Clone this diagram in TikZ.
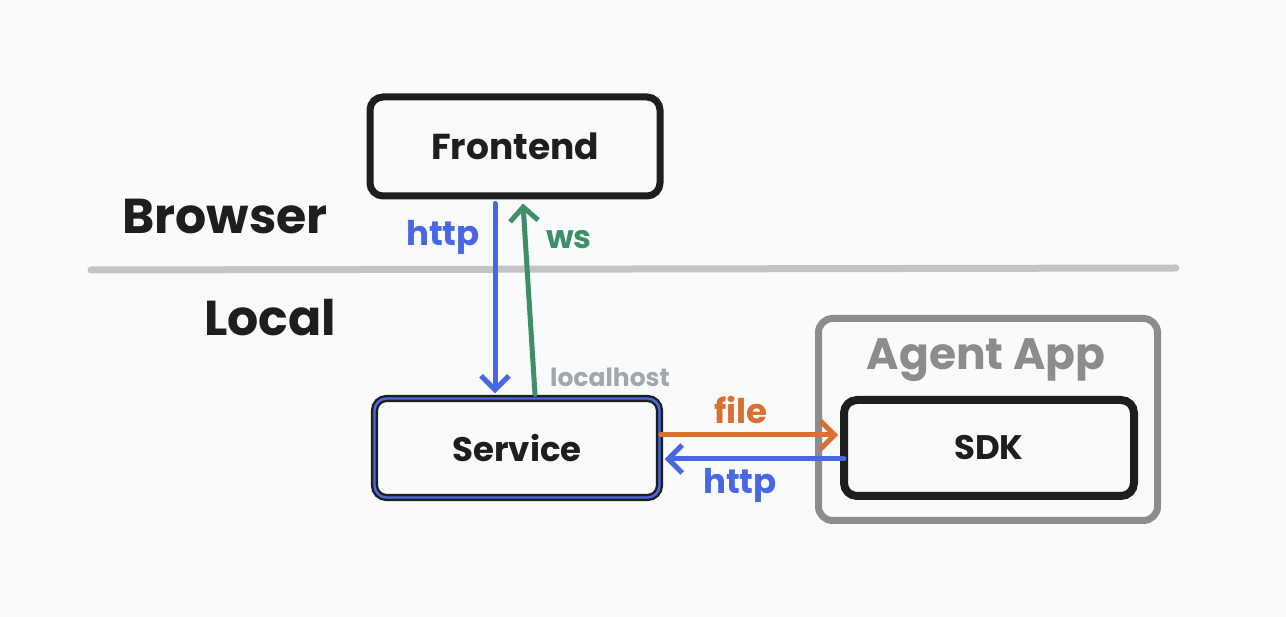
\documentclass[tikz,border=0pt]{standalone}
\usepackage{fontspec}
\setmainfont{Poppins}
\usetikzlibrary{arrows.meta,calc}
\definecolor{bgc}{HTML}{F9FAFB}
\definecolor{ink}{HTML}{1E1E1E}
\definecolor{myblue}{HTML}{4A67E3}
\definecolor{mygreen}{HTML}{3E8F68}
\definecolor{myorange}{HTML}{D9702F}
\definecolor{divc}{HTML}{C4C4C4}
\definecolor{appgrey}{HTML}{8C8C8C}
\definecolor{lhgrey}{HTML}{A3A6AD}
\tikzset{
  box/.style={draw=ink, line width=7pt, rounded corners=13pt, fill=bgc, text=ink,
    font=\bfseries\fontsize{34}{36}\selectfont},
  conn/.style={line width=5pt, line cap=round,
    -{Straight Barb[length=14pt,width=28pt,line width=5pt]}},
  lbl/.style={font=\bfseries\fontsize{34}{36}\selectfont},
  big/.style={font=\bfseries\fontsize{49}{52}\selectfont, text=ink}
}
\begin{document}
\begin{tikzpicture}[x=1pt,y=-1pt]
\fill[bgc] (0,0) rectangle (1286,617);
\useasboundingbox (0,0) rectangle (1286,617);
% divider
\draw[divc, line width=7pt, line cap=round] (91,270) -- (1176,268);
% texts
\node[big] (browser) at (225,216) {Browser};
\node[big] (local) at (270,318) {Local};
% boxes
\node[box, font=\bfseries\fontsize{36}{38}\selectfont, minimum width=290pt, minimum height=99pt] (fe) at (515,146.5) {Frontend};
\node[draw=ink, line width=2.4pt, double=myblue, double distance=2.4pt, rounded corners=12pt,
  fill=bgc, text=ink, font=\bfseries\fontsize{34}{36}\selectfont,
  minimum width=285pt, minimum height=99pt] (svc) at (517,448) {Service};
\node[draw=appgrey, line width=7pt, rounded corners=14pt, minimum width=339pt, minimum height=202pt] (app) at (988,419.5) {};
\node[text=appgrey, font=\bfseries\fontsize{44}{46}\selectfont] (applbl) at (986,360) {Agent App};
\node[box, line width=8pt, minimum width=290pt, minimum height=96pt] (sdk) at (989,448) {SDK};
% connectors
\draw[conn, myblue] ($(fe.south)+(-20,4)$) -- ($(svc.north)+(-22,-4)$);
\draw[conn, mygreen] ($(svc.north)+(18,-3)$) -- ($(fe.south)+(8,4)$);
\draw[conn, myorange] ($(svc.east)+(0,-13)$) -- ($(sdk.west)+(-2,-13)$);
\draw[conn, myblue] ($(sdk.west)+(4,11)$) -- ($(svc.east)+(4,11)$);
% labels
\node[lbl, text=myblue] (l1) at (443,237) {http};
\node[lbl, text=mygreen, font=\bfseries\fontsize{32}{34}\selectfont] (l2) at (569,240) {ws};
\node[font=\bfseries\fontsize{25}{27}\selectfont, text=lhgrey] (l3) at (610,377) {localhost};
\node[lbl, text=myorange] (l4) at (741,410) {file};
\node[lbl, text=myblue] (l5) at (740,485) {http};
\end{tikzpicture}
\end{document}
